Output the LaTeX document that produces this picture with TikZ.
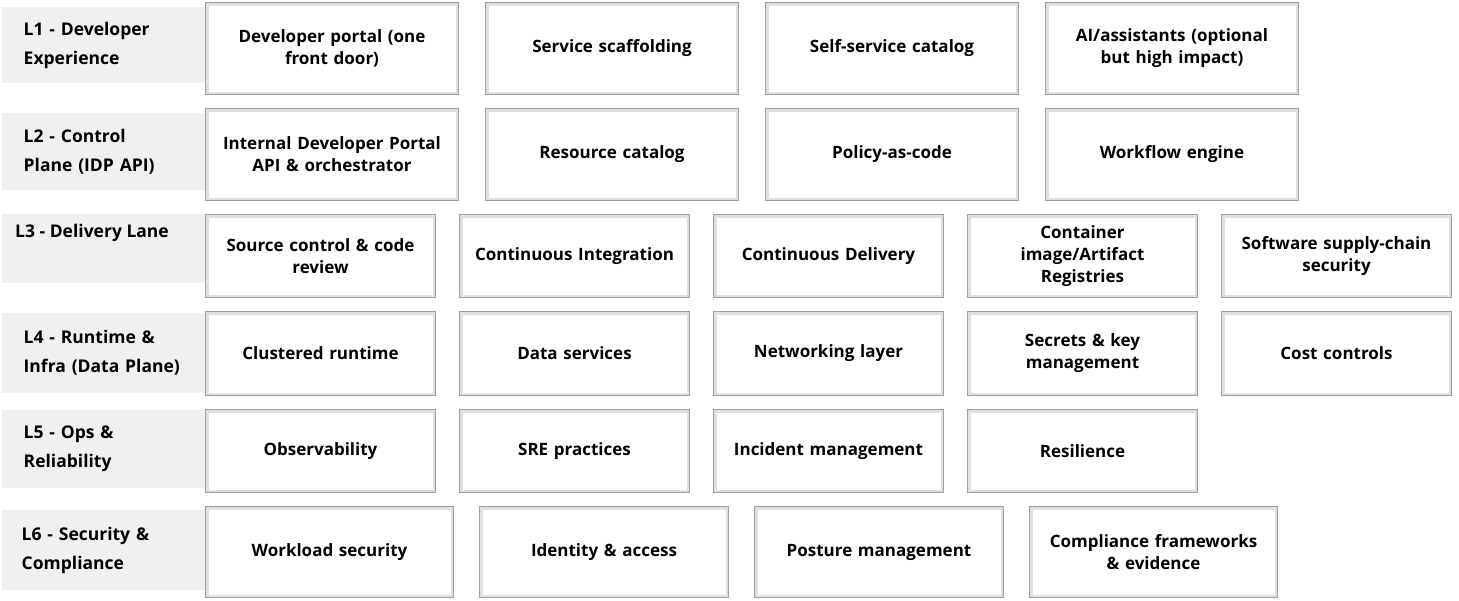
\documentclass[tikz,border=0pt]{standalone}
\usepackage{fontspec}
\setmainfont{Open Sans}
\begin{document}
\begin{tikzpicture}[x=1pt,y=-1pt,
 box/.style={draw=gray!75,fill=white,line width=1pt,anchor=north west,align=center,font=\bfseries\fontsize{17}{22}\selectfont,inner sep=1pt,
   path picture={\draw[gray!25,line width=6pt] (path picture bounding box.south west) rectangle (path picture bounding box.north east);}},
 lab/.style={fill=gray!12,anchor=north west,minimum width=203pt,text width=190pt,align=left,font=\bfseries\fontsize{17.5}{29}\selectfont,inner sep=0pt}]
\useasboundingbox (0,0) rectangle (1459,600);
\newcommand{\bx}[6]{\node[box,minimum width=#4pt,minimum height=#5pt,text width=#4pt-6pt] (#1) at (#2,#3) {#6};}
% labels
\node[lab,minimum height=76pt] (l1) at (2,7) {\hspace*{15pt}L1 - Developer\\\hspace*{15pt}Experience};
\node[lab,minimum height=77pt] (l2) at (2,113) {\hspace*{15pt}L2 - Control\\\hspace*{15pt}Plane (IDP API)};
\node[lab,minimum height=69pt] (l3) at (2,214) {};
\node[anchor=north west,font=\bfseries\fontsize{17.5}{29}\selectfont,inner sep=0pt] (l3t) at (15,224) {L3 - Delivery Lane};
\node[lab,minimum height=80pt] (l4) at (2,313) {\hspace*{15pt}L4 - Runtime \&\\\hspace*{15pt}Infra (Data Plane)};
\node[lab,minimum height=78pt] (l5) at (2,410) {\hspace*{15pt}L5 - Ops \&\\\hspace*{15pt}Reliability};
\node[lab,minimum height=80pt] (l6) at (2,510) {\hspace*{13pt}L6 - Security \&\\\hspace*{13pt}Compliance};
% row 1
\bx{a1}{205}{2}{253}{92}{Developer portal (one\\front door)}
\bx{a2}{485}{2}{253}{92}{Service scaffolding}
\bx{a3}{765}{2}{253}{92}{Self-service catalog}
\bx{a4}{1045}{2}{253}{92}{AI/assistants (optional\\but high impact)}
% row 2
\bx{b1}{205}{108}{253}{92}{Internal Developer Portal\\API \& orchestrator}
\bx{b2}{485}{108}{253}{92}{Resource catalog}
\bx{b3}{765}{108}{253}{92}{Policy-as-code}
\bx{b4}{1045}{108}{253}{92}{Workflow engine}
% row 3
\bx{c1}{205}{214}{230}{83}{Source control \& code\\review}
\bx{c2}{459}{214}{230}{83}{Continuous Integration}
\bx{c3}{713}{214}{230}{83}{Continuous Delivery}
\bx{c4}{967}{214}{230}{83}{Container\\image/Artifact\\Registries}
\bx{c5}{1221}{214}{230}{83}{Software supply-chain\\security}
% row 4
\bx{d1}{205}{311}{230}{84}{Clustered runtime}
\bx{d2}{459}{311}{230}{84}{Data services}
\bx{d3}{713}{311}{230}{84}{Networking layer}
\bx{d4}{967}{311}{230}{84}{Secrets \& key\\management}
\bx{d5}{1221}{311}{230}{84}{Cost controls}
% row 5
\bx{e1}{205}{409}{230}{83}{Observability}
\bx{e2}{459}{409}{230}{83}{SRE practices}
\bx{e3}{713}{409}{230}{83}{Incident management}
\bx{e4}{967}{409}{230}{83}{Resilience}
% row 6
\bx{f1}{205}{506}{248}{91}{Workload security}
\bx{f2}{479}{506}{249}{91}{Identity \& access}
\bx{f3}{754}{506}{249}{91}{Posture management}
\bx{f4}{1029}{506}{248}{91}{Compliance frameworks\\\& evidence}
\end{tikzpicture}
\end{document}
